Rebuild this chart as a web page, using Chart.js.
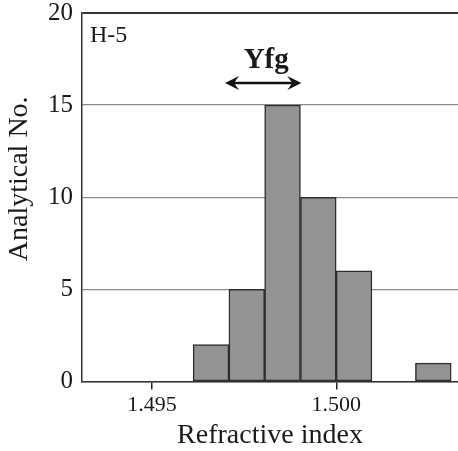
<!DOCTYPE html>
<html>
<head>
<meta charset="utf-8">
<script src="https://cdn.jsdelivr.net/npm/chart.js@4/dist/chart.umd.min.js"></script>
<style>
  html, body { margin: 0; padding: 0; background: #fff; }
  #wrap { width: 458px; height: 451px; }
</style>
</head>
<body>
<div id="wrap"><canvas id="histChart" width="458" height="451"></canvas></div>
<script>
// bin centres (refractive index) and counts
const binCenters = [1.49660, 1.49757, 1.49854, 1.49951, 1.50048, 1.50263];
const counts = [2, 5, 15, 10, 6, 1];
const xTickValues = [1.495, 1.500];
const yTickValues = [0, 5, 10, 15, 20];
const sampleLabel = 'H-5';
const rangeLabel = 'Yfg';
const rangeFrom = 1.49698;
const rangeTo = 1.49905;
const rangeLevel = 16.2;
const yTitle = 'Analytical No.';

const serif = '"Liberation Serif", "DejaVu Serif", serif';

// text and arrow drawn on top of the plot
const annotations = {
    id: 'annotations',
    afterDatasetsDraw(chart) {
        const ctx = chart.ctx;
        const area = chart.chartArea;
        const x = chart.scales.x;
        const y = chart.scales.y;
        ctx.save();
        ctx.fillStyle = '#1a1a1a';
        ctx.font = '24px ' + serif;
        ctx.textAlign = 'left';
        ctx.textBaseline = 'alphabetic';
        ctx.fillText(sampleLabel, area.left + 8, 42);

        // y axis title, sitting a little above the middle like the original
        ctx.save();
        ctx.translate(20, y.getPixelForValue(11));
        ctx.rotate(-Math.PI / 2);
        ctx.font = '28px ' + serif;
        ctx.textAlign = 'center';
        ctx.textBaseline = 'middle';
        ctx.fillText(yTitle, 0, 0);
        ctx.restore();

        const x1 = x.getPixelForValue(rangeFrom);
        const x2 = x.getPixelForValue(rangeTo);
        const ya = y.getPixelForValue(rangeLevel);
        ctx.font = 'bold 29px ' + serif;
        ctx.textAlign = 'center';
        ctx.fillText(rangeLabel, (x1 + x2) / 2 + 3, 68);

        ctx.strokeStyle = '#111';
        ctx.lineWidth = 2.5;
        ctx.beginPath();
        ctx.moveTo(x1 + 4, ya);
        ctx.lineTo(x2 - 4, ya);
        ctx.stroke();
        ctx.fillStyle = '#111';
        [[x1, 1], [x2, -1]].forEach(([px, dir]) => {
            ctx.beginPath();
            ctx.moveTo(px, ya);
            ctx.lineTo(px + dir * 14, ya - 7);
            ctx.lineTo(px + dir * 9, ya);
            ctx.lineTo(px + dir * 14, ya + 7);
            ctx.closePath();
            ctx.fill();
        });
        ctx.restore();
    }
};

const ctx = document.getElementById('histChart').getContext('2d');
new Chart(ctx, {
    type: 'bar',
    data: {
        datasets: [{
            label: yTitle,
            data: binCenters.map((v, i) => ({ x: v, y: counts[i] })),
            backgroundColor: '#939393',
            borderColor: '#2e2e2e',
            borderWidth: 1.5,
            borderSkipped: false,
            barPercentage: 1.0,
            categoryPercentage: 1.0
        }]
    },
    options: {
        responsive: false,
        animation: false,
        layout: { padding: { top: 13, right: 0, bottom: 0, left: 0 } },
        plugins: {
            legend: { display: false },
            tooltip: { enabled: false }
        },
        scales: {
            x: {
                type: 'linear',
                min: 1.4931,
                max: 1.5033,
                offset: false,
                afterBuildTicks: function(scale) {
                    scale.ticks = xTickValues.map(v => ({ value: v }));
                },
                afterFit: function(scale) {
                    scale.height = 69.5;
                    scale.paddingLeft = 0;
                    scale.paddingRight = 0;
                },
                ticks: {
                    color: '#1a1a1a',
                    font: { family: serif, size: 22 },
                    padding: 3,
                    maxRotation: 0,
                    callback: v => Number(v).toFixed(3)
                },
                grid: {
                    offset: false,
                    drawOnChartArea: false,
                    drawTicks: true,
                    tickLength: 8,
                    color: '#222',
                    lineWidth: 1.5
                },
                border: { display: true, color: '#333', width: 1.5 },
                title: {
                    display: true,
                    text: 'Refractive index',
                    color: '#1a1a1a',
                    font: { family: serif, size: 28, lineHeight: 1 },
                    padding: { top: 0, bottom: 1 }
                }
            },
            y: {
                min: 0,
                max: 20,
                afterBuildTicks: function(scale) {
                    scale.ticks = yTickValues.map(v => ({ value: v }));
                },
                afterFit: function(scale) {
                    scale.width = 82;
                    scale.paddingTop = 0;
                    scale.paddingBottom = 0;
                },
                ticks: {
                    color: '#1a1a1a',
                    font: { family: serif, size: 25 },
                    padding: 9
                },
                grid: {
                    drawTicks: false,
                    color: c => (c.tick && c.tick.value === 20) ? '#333' : '#8a8a8a',
                    lineWidth: c => (c.tick && c.tick.value === 20) ? 2 : 1.3
                },
                border: { display: true, color: '#333', width: 1.5 }
            }
        }
    },
    plugins: [annotations]
});
</script>
</body>
</html>
